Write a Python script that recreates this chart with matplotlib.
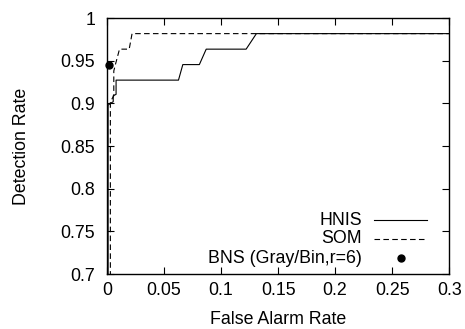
import matplotlib
matplotlib.use("Agg")
import matplotlib.pyplot as plt

plt.rcParams['font.family'] = ['Liberation Sans', 'DejaVu Sans']
plt.rcParams['font.size'] = 12.8

# ROC points (detection rates are steps of 1/55)
hnis_far = [0.001, 0.001, 0.003, 0.0055, 0.0055, 0.008, 0.008, 0.0627, 0.0665,
            0.081, 0.087, 0.122, 0.131, 0.3]
hnis_dr = [0.6, 0.898, 0.900, 0.902, 0.909, 0.9106, 0.9273, 0.9273, 0.9455,
           0.9455, 0.9636, 0.9636, 0.9818, 0.9818]

som_far = [0.003, 0.003, 0.006, 0.006, 0.0075, 0.011, 0.0195, 0.022, 0.3]
som_dr = [0.6, 0.902, 0.909, 0.938, 0.946, 0.9636, 0.9636, 0.9818, 0.9818]

bns_far = [0.002]
bns_dr = [0.9455]

labels = ['HNIS', 'SOM', 'BNS (Gray/Bin,r=6)']
xticks = [0, 0.05, 0.1, 0.15, 0.2, 0.25, 0.3]
yticks = [0.7, 0.75, 0.8, 0.85, 0.9, 0.95, 1]

fig = plt.figure(figsize=(4.65, 3.29), dpi=100)
ax = fig.add_axes([0.230, 0.167, 0.736, 0.778])

dash = (0, (5, 3))
ax.plot(hnis_far, hnis_dr, color='black', lw=0.8)
ax.plot(som_far, som_dr, color='black', lw=0.8, ls=dash)
ax.plot(bns_far, bns_dr, 'o', color='black', ms=5, clip_on=False, zorder=5)

ax.set_xlim(0, 0.3)
ax.set_ylim(0.7, 1)
ax.set_xticks(xticks)
ax.set_xticklabels(['0', '0.05', '0.1', '0.15', '0.2', '0.25', '0.3'])
ax.set_yticks(yticks)
ax.set_yticklabels(['0.7', '0.75', '0.8', '0.85', '0.9', '0.95', '1'])
ax.tick_params(direction='in', length=5, width=0.8, top=True, right=True)
ax.tick_params(axis='x', pad=6)
ax.tick_params(axis='y', pad=8.5)
for s in ax.spines.values():
    s.set_linewidth(1.0)

ax.set_xlabel('False Alarm Rate', va='top')
ax.xaxis.set_label_coords(0.5, -0.145)
ax.set_ylabel('Detection Rate', va='center')
ax.yaxis.set_label_coords(-0.251, 0.5)

# gnuplot-style key: text right-aligned, sample on the right
rows = [0.211, 0.137, 0.0625]
tr = ax.transAxes
for i, (lab, y) in enumerate(zip(labels, rows)):
    ax.text(0.745, y, lab, transform=tr, ha='right', va='center')
    if i == 0:
        ax.plot([0.781, 0.935], [y, y], transform=tr, color='black', lw=0.8)
    elif i == 1:
        ax.plot([0.781, 0.935], [y, y], transform=tr, color='black', lw=0.8, ls=dash)
    else:
        ax.plot([0.859], [y], 'o', transform=tr, color='black', ms=5)

fig.savefig('out.png', dpi=100)
